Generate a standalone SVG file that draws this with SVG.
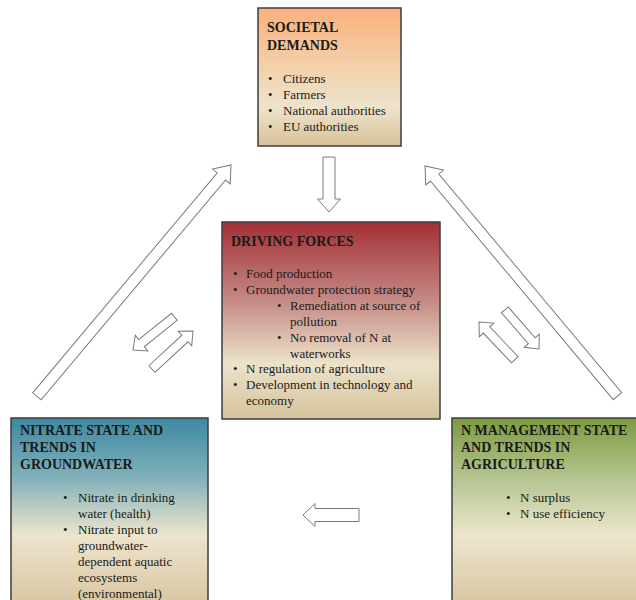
<svg xmlns="http://www.w3.org/2000/svg" width="636" height="600" viewBox="0 0 636 600">
<defs>
<linearGradient id="gSoc" x1="0" y1="0" x2="0" y2="1">
<stop offset="0" stop-color="#fbb07c"/><stop offset="0.4" stop-color="#f3cfa8"/><stop offset="0.72" stop-color="#ede4cc"/><stop offset="1" stop-color="#d9c198"/>
</linearGradient>
<linearGradient id="gDrv" x1="0" y1="0" x2="0" y2="1">
<stop offset="0" stop-color="#a32f35"/><stop offset="0.4" stop-color="#c48a86"/><stop offset="0.72" stop-color="#ece3c9"/><stop offset="1" stop-color="#d4c29c"/>
</linearGradient>
<linearGradient id="gNit" x1="0" y1="0" x2="0" y2="1">
<stop offset="0" stop-color="#3d88a1"/><stop offset="0.3" stop-color="#7fb0ba"/><stop offset="0.6" stop-color="#ede4cc"/><stop offset="1" stop-color="#d6c29c"/>
</linearGradient>
<linearGradient id="gAgr" x1="0" y1="0" x2="0" y2="1">
<stop offset="0" stop-color="#7c9a3e"/><stop offset="0.3" stop-color="#b3c38e"/><stop offset="0.6" stop-color="#ede6cd"/><stop offset="1" stop-color="#d6c19c"/>
</linearGradient>
</defs>
<style>
.box{stroke:#3c3c3c;stroke-width:1.5}
.t{font-family:"Liberation Serif","Times New Roman",serif;font-size:13px;fill:#1a1a1a}
.h{font-family:"Liberation Serif","Times New Roman",serif;font-size:14px;font-weight:bold;fill:#1a1a1a}
.arr{fill:#ffffff;stroke:#7a7a7a;stroke-width:1}
</style>
<rect width="636" height="600" fill="#ffffff"/>

<g id="connectors">
<!-- long left: up-right -->
<polygon class="arr" transform="translate(231,165) rotate(-50)" points="-302,-5.5 -15,-5.5 -15,-11.5 0,0 -15,11.5 -15,5.5 -302,5.5"/>
<!-- long right: up-left -->
<polygon class="arr" transform="translate(425,166) rotate(-129.9)" points="-300,-5.5 -15,-5.5 -15,-11.5 0,0 -15,11.5 -15,5.5 -300,5.5"/>
<!-- down arrow -->
<polygon class="arr" transform="translate(329,212) rotate(90)" points="-55,-6 -13,-6 -13,-11.5 0,0 -13,11.5 -13,6 -55,6"/>
<!-- left pair -->
<polygon class="arr" transform="translate(133,350) rotate(141.2)" points="-53,-4.5 -11,-4.5 -11,-10 0,0 -11,10 -11,4.5 -53,4.5"/>
<polygon class="arr" transform="translate(193,331) rotate(-42.8)" points="-56,-4.5 -11,-4.5 -11,-10 0,0 -11,10 -11,4.5 -56,4.5"/>
<!-- right pair -->
<polygon class="arr" transform="translate(479,322) rotate(-133.5)" points="-52,-4.5 -11,-4.5 -11,-10 0,0 -11,10 -11,4.5 -52,4.5"/>
<polygon class="arr" transform="translate(539,349) rotate(48.9)" points="-52,-4.5 -11,-4.5 -11,-10 0,0 -11,10 -11,4.5 -52,4.5"/>
<!-- horizontal left -->
<polygon class="arr" transform="translate(303,515) rotate(180)" points="-56,-6.5 -12,-6.5 -12,-11.5 0,0 -12,11.5 -12,6.5 -56,6.5"/>
</g>

<g id="societal-demands">
<rect class="box" x="258" y="8" width="143" height="138" fill="url(#gSoc)"/>
<text class="h" x="267" y="32">SOCIETAL</text>
<text class="h" x="267" y="50">DEMANDS</text>
<text class="t"><tspan x="268" y="83">•</tspan><tspan x="283" y="83">Citizens</tspan></text>
<text class="t"><tspan x="268" y="99">•</tspan><tspan x="283" y="99">Farmers</tspan></text>
<text class="t"><tspan x="268" y="115">•</tspan><tspan x="283" y="115">National authorities</tspan></text>
<text class="t"><tspan x="268" y="131">•</tspan><tspan x="283" y="131">EU authorities</tspan></text>
</g>

<g id="driving-forces">
<rect class="box" x="222" y="222" width="218" height="197" fill="url(#gDrv)"/>
<text class="h" x="231" y="246">DRIVING FORCES</text>
<text class="t"><tspan x="233" y="278">•</tspan><tspan x="246" y="278">Food production</tspan></text>
<text class="t"><tspan x="233" y="294">•</tspan><tspan x="246" y="294">Groundwater protection strategy</tspan></text>
<text class="t"><tspan x="277" y="310">•</tspan><tspan x="290" y="310">Remediation at source of</tspan></text>
<text class="t" x="290" y="326">pollution</text>
<text class="t"><tspan x="277" y="342">•</tspan><tspan x="290" y="342">No removal of N at</tspan></text>
<text class="t" x="290" y="358">waterworks</text>
<text class="t"><tspan x="233" y="373">•</tspan><tspan x="246" y="373">N regulation of agriculture</tspan></text>
<text class="t"><tspan x="233" y="389">•</tspan><tspan x="246" y="389">Development in technology and</tspan></text>
<text class="t" x="246" y="405">economy</text>
</g>

<g id="nitrate-state">
<rect class="box" x="11" y="418" width="197" height="195" fill="url(#gNit)"/>
<text class="h" x="20" y="435">NITRATE STATE AND</text>
<text class="h" x="20" y="452">TRENDS IN</text>
<text class="h" x="20" y="469">GROUNDWATER</text>
<text class="t"><tspan x="63" y="502">•</tspan><tspan x="78" y="502">Nitrate in drinking</tspan></text>
<text class="t" x="78" y="518">water (health)</text>
<text class="t"><tspan x="63" y="534">•</tspan><tspan x="78" y="534">Nitrate input to</tspan></text>
<text class="t" x="78" y="550">groundwater-</text>
<text class="t" x="78" y="566">dependent aquatic</text>
<text class="t" x="78" y="582">ecosystems</text>
<text class="t" x="78" y="598">(environmental)</text>
</g>

<g id="n-management">
<rect class="box" x="452" y="418" width="200" height="195" fill="url(#gAgr)"/>
<text class="h" x="461" y="435">N MANAGEMENT STATE</text>
<text class="h" x="461" y="452">AND TRENDS IN</text>
<text class="h" x="461" y="469">AGRICULTURE</text>
<text class="t"><tspan x="506" y="502">•</tspan><tspan x="520" y="502">N surplus</tspan></text>
<text class="t"><tspan x="506" y="518">•</tspan><tspan x="520" y="518">N use efficiency</tspan></text>
</g>
</svg>
